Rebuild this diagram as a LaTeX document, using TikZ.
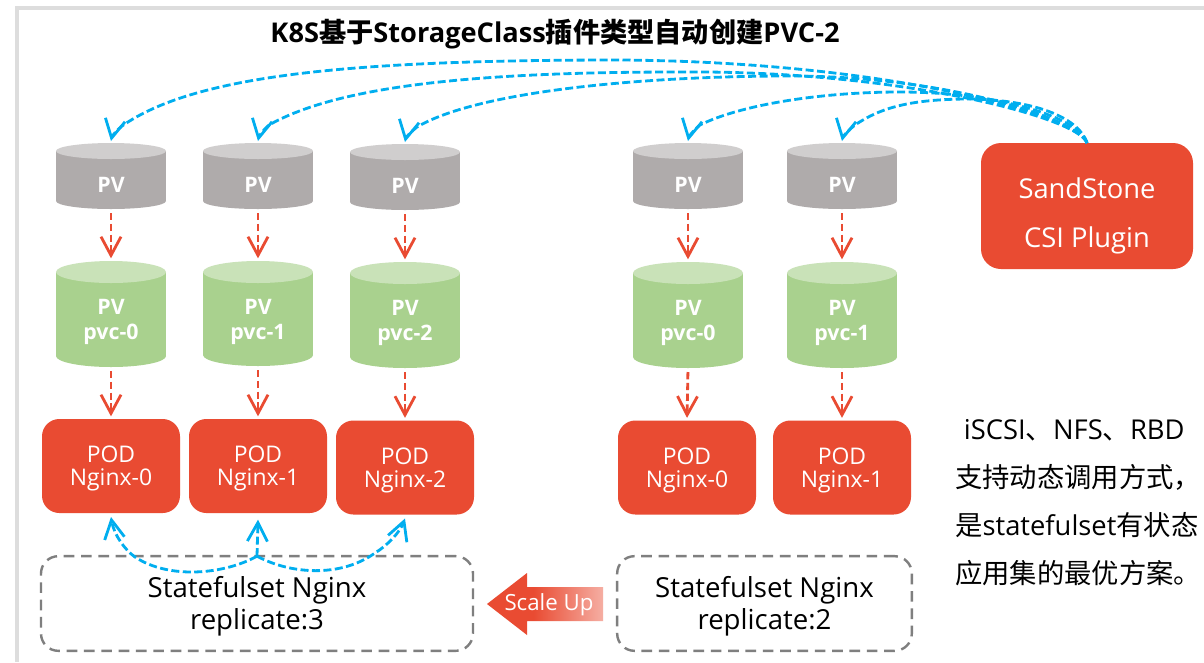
\documentclass[tikz,border=0pt]{standalone}
\usepackage{fontspec}
\setmainfont{Open Sans}
\newfontfamily\cjk{Noto Sans CJK SC}
\usetikzlibrary{arrows.meta}
\definecolor{podred}{HTML}{E94B32}
\definecolor{skyb}{HTML}{00AEEF}
\definecolor{pvbody}{HTML}{AFABAB}
\definecolor{pvtop}{HTML}{D0CECE}
\definecolor{pvcbody}{HTML}{A9D18E}
\definecolor{pvctop}{HTML}{C9E2B8}
\definecolor{framegray}{HTML}{DDDDDD}
\definecolor{dashgray}{HTML}{7F7F7F}
\pgfdeclarehorizontalshading{scalefade}{100bp}{color(0bp)=(podred); color(25bp)=(podred); color(45bp)=(podred); color(75bp)=(podred!45!white); color(100bp)=(podred!45!white)}
\newcommand\zh[1]{{\cjk #1}}
\newcommand\podstrut{\rule{0pt}{16.8pt}}
\newcommand\setstrut{\rule{0pt}{20.2pt}}
\tikzset{
  cylshape/.style={minimum width=82.5pt,inner sep=0pt,outer sep=0pt},
  cyltext/.style={text=white,align=center,inner sep=0pt,font=\bfseries\fontsize{16}{18.75}\selectfont},
  podbox/.style={fill=podred,rounded corners=13pt,minimum width=103.5pt,minimum height=70.5pt,inner sep=0pt,outer sep=0pt,
    text=white,align=center,font=\fontsize{17.2}{17.25}\selectfont},
  setbox/.style={draw=dashgray,line width=1.8pt,dash pattern=on 8pt off 5pt,rounded corners=13pt,minimum height=71pt,inner sep=0pt,outer sep=0pt,
    align=center,font=\fontsize{20.7}{24}\selectfont},
  bluelink/.style={draw=skyb,line width=2.1pt,dash pattern=on 6pt off 2.6pt,-{Straight Barb[length=14pt,width=15pt]}},
  redlink/.style={draw=podred,line width=2.1pt,dash pattern=on 5.5pt off 2.6pt,-{Straight Barb[length=14pt,width=15pt]}},
}
% name, cx, top, bottom, ellipse ry, body, top colour, text centre y, text
\newcommand\cyl[9]{%
  \fill[#6] ({#2-55},{#3+#5}) rectangle ({#2+55},{#4-#5});
  \fill[#6] (#2,{#4-#5}) ellipse [x radius=41.25pt,y radius=#5*0.75pt];
  \fill[#7] (#2,{#3+#5}) ellipse [x radius=41.25pt,y radius=#5*0.75pt];
  \node[cylshape,minimum height={(#4-#3)*0.75pt}] (#1) at (#2,{(#3+#4)/2}) {};
  \node[cyltext] (#1-t) at (#2,#8) {#9};
}
\begin{document}
\begin{tikzpicture}[x=0.75pt,y=-0.75pt]
\useasboundingbox (0,0) rectangle (1204,662);
\fill[white] (0,0) rectangle (1204,662);
\draw[framegray,line width=2.4pt] (1204,8) -- (17,8) -- (17,662);

\node[inner sep=0pt,font=\bfseries\fontsize{20.4}{24}\selectfont] (title) at (555,34)
  {K8S\zh{基于}StorageClass\zh{插件类型自动创建}PVC-2};

% PV row
\cyl{pv0}{111}{143}{209}{8}{pvbody}{pvtop}{185}{PV}
\cyl{pv1}{258}{143}{209}{8}{pvbody}{pvtop}{185}{PV}
\cyl{pv2}{405}{144}{210}{8}{pvbody}{pvtop}{186}{PV}
\cyl{pvr0}{688}{143}{209}{8}{pvbody}{pvtop}{185}{PV}
\cyl{pvr1}{842}{143}{209}{8}{pvbody}{pvtop}{185}{PV}
% PVC row
\cyl{pvc0}{111}{261}{367}{11}{pvcbody}{pvctop}{322}{PV\\pvc-0}
\cyl{pvc1}{258}{261}{366}{11}{pvcbody}{pvctop}{322}{PV\\pvc-1}
\cyl{pvc2}{405}{262}{368}{11}{pvcbody}{pvctop}{323}{PV\\pvc-2}
\cyl{pvcr0}{688}{262}{368}{11}{pvcbody}{pvctop}{323}{PV\\pvc-0}
\cyl{pvcr1}{842}{262}{368}{11}{pvcbody}{pvctop}{323}{PV\\pvc-1}
% PODs
\node[podbox] (pod0) at (111,466) {\podstrut POD\\Nginx-0};
\node[podbox] (pod1) at (258,466) {\podstrut POD\\Nginx-1};
\node[podbox] (pod2) at (405,467.5) {\podstrut POD\\Nginx-2};
\node[podbox] (podr0) at (687,467.5) {\podstrut POD\\Nginx-0};
\node[podbox] (podr1) at (842,467.5) {\podstrut POD\\Nginx-1};
% Plugin
\node[fill=podred,rounded corners=15pt,minimum width=159pt,minimum height=94.5pt,inner sep=0pt,outer sep=0pt] (plugin) at (1087,206) {};
\node[text=white,align=center,inner sep=0pt,font=\fontsize{20.5}{36.75}\selectfont] (plugin-t) at (1087,215.5) {SandStone\\CSI Plugin};
% Statefulsets
\node[setbox,minimum width=324pt] (ss3) at (257,603.5) {\setstrut Statefulset Nginx\\replicate:3};
\node[setbox,minimum width=221pt] (ss2) at (764.5,603.5) {\setstrut Statefulset Nginx\\replicate:2};
% Scale Up block arrow
\shade[shading=scalefade] (487,604) -- (527,573) -- (527,587) -- (603,587) -- (603,621) -- (527,621) -- (527,635) -- cycle;
\node[text=white,inner sep=0pt,font=\fontsize{16.7}{18}\selectfont] (scale) at (549,605) {Scale Up};

% Red links
\foreach \a/\b in {pv0/pvc0,pv1/pvc1,pv2/pvc2,pvr0/pvcr0,pvr1/pvcr1}
  \draw[redlink,shorten <=3pt,shorten >=2pt] (\a.south) -- (\b.north);
\foreach \a/\b in {pvc0/pod0,pvc1/pod1,pvc2/pod2,pvcr0/podr0,pvcr1/podr1}
  \draw[redlink,shorten <=3pt,shorten >=2pt] (\a.south) -- (\b.north);

% Plugin to PV links
\draw[bluelink] (plugin.north) .. controls (1080,118) and (900,62) .. (620,60)
  .. controls (350,60) and (195,75) .. (122,126)
  .. controls (117,130) and (112,136) .. ([yshift=1.5pt]pv0.north);
\draw[bluelink] (plugin.north) .. controls (1080,118) and (900,70) .. (680,72)
  .. controls (480,72) and (340,85) .. (269,125)
  .. controls (264,129) and (259,136) .. ([yshift=1.5pt]pv1.north);
\draw[bluelink] (plugin.north) .. controls (1080,120) and (950,76) .. (790,76)
  .. controls (650,76) and (480,90) .. (417,127)
  .. controls (412,131) and (406,137) .. ([yshift=1.5pt]pv2.north);
\draw[bluelink] (plugin.north) .. controls (1080,118) and (1000,92) .. (900,92)
  .. controls (820,92) and (740,105) .. (700,125)
  .. controls (695,129) and (689,136) .. ([yshift=1.5pt]pvr0.north);
\draw[bluelink] (plugin.north) .. controls (1080,120) and (1040,100) .. (970,99)
  .. controls (910,99) and (880,108) .. (855,125)
  .. controls (850,129) and (843,136) .. ([yshift=1.5pt]pvr1.north);

% Statefulset to POD links
\draw[bluelink] (ss3.north) -- ([yshift=-5pt]pod1.south);
\draw[bluelink] (ss3.north) .. controls (225,574) and (170,580) .. (135,557)
  .. controls (125,550) and (114,535) .. ([yshift=-3pt]pod0.south);
\draw[bluelink] (ss3.north) .. controls (290,574) and (340,578) .. (375,553)
  .. controls (388,545) and (400,532) .. ([yshift=-3pt]pod2.south);

% Right-hand note
\node[anchor=north west,inner sep=0pt,align=left,font=\fontsize{20.5}{36}\selectfont] (note) at (955,419)
  {\hspace*{6.5pt}iSCSI\zh{、}NFS\zh{、}RBD\\
   \zh{支持动态调用方式，}\\
   \zh{是}statefulset\zh{有状态}\\
   \zh{应用集的最优方案。}};
\end{tikzpicture}
\end{document}
